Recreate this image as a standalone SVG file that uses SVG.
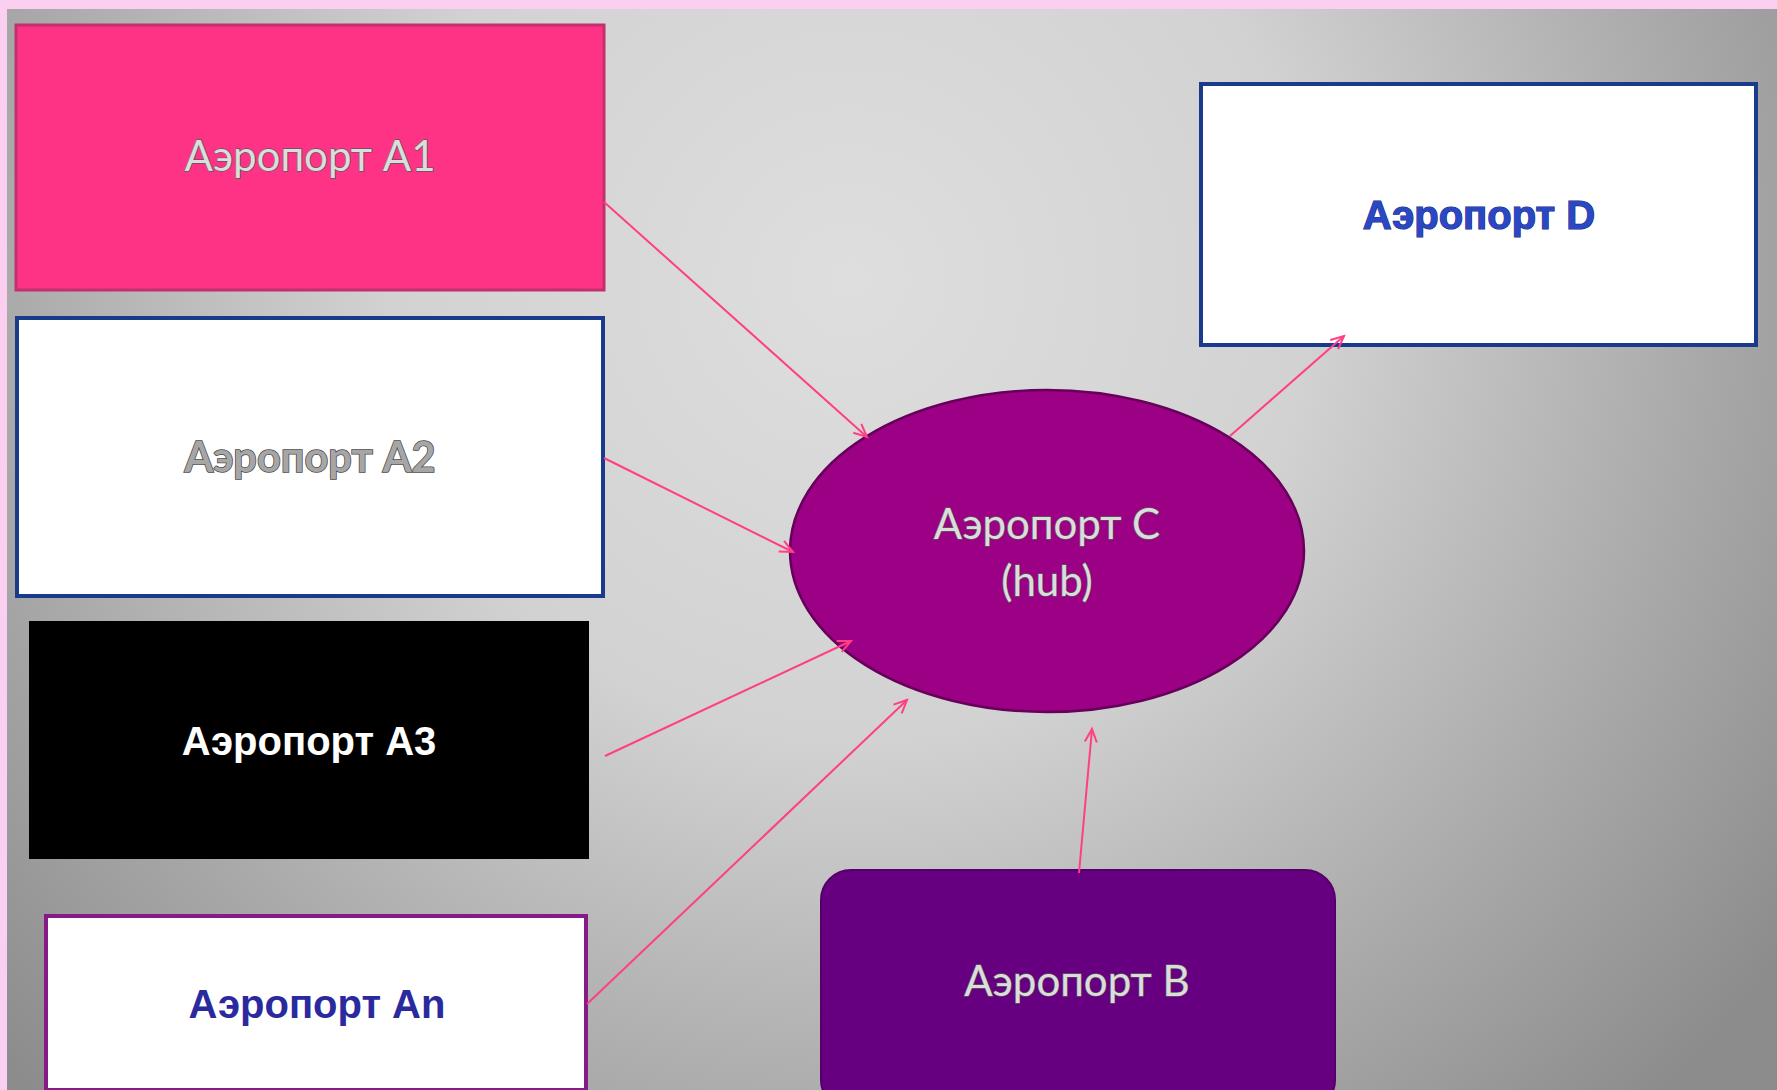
<svg xmlns="http://www.w3.org/2000/svg" width="1777" height="1090" viewBox="0 0 1777 1090">
<defs>
<radialGradient id="bg" cx="850" cy="280" r="1150" gradientUnits="userSpaceOnUse">
<stop offset="0" stop-color="#dedede"/>
<stop offset="0.4" stop-color="#d2d2d2"/>
<stop offset="0.75" stop-color="#a8a8a8"/>
<stop offset="1" stop-color="#8c8c8c"/>
</radialGradient>
<marker id="arr" markerUnits="userSpaceOnUse" markerWidth="18" markerHeight="18" refX="15" refY="8" orient="auto" viewBox="0 0 18 16">
<path d="M2,2 L15,8 L2,14" fill="none" stroke="#ff3f85" stroke-width="2"/>
</marker>
</defs>
<style>
.conn{stroke:#ff3f85;stroke-width:2;fill:none;marker-end:url(#arr)}
.calib{font-family:Lato,"Open Sans","Liberation Sans",sans-serif;text-anchor:middle}
.arial{font-family:"Liberation Sans",Arial,sans-serif;font-weight:bold;text-anchor:middle}
.silver{fill:#dcdcdc;stroke:#5a5a5a;stroke-width:1.3;paint-order:stroke}
</style>
<rect x="0" y="0" width="1777" height="1090" fill="#fbcff0"/>
<rect x="7" y="9" width="1770" height="1081" fill="url(#bg)"/>

<g id="node-a1">
<rect x="16" y="25" width="588" height="265" fill="#ff3385" stroke="#c2306d" stroke-width="3"/>
<text class="calib silver" x="310" y="171" font-size="42">Аэропорт А1</text>
</g>
<g id="node-a2">
<rect x="17" y="318" width="586" height="278" fill="#ffffff" stroke="#1a3a8c" stroke-width="4"/>
<text class="calib" x="310" y="472" font-size="41.5" font-weight="bold" fill="#a6a6a6" stroke="#4a4a4a" stroke-width="1.5" paint-order="stroke">Аэропорт А2</text>
</g>
<g id="node-a3">
<rect x="29" y="621" width="560" height="238" fill="#000000"/>
<text class="arial" x="309" y="755" font-size="40" fill="#ffffff">Аэропорт  А3</text>
</g>
<g id="node-an">
<rect x="46" y="916" width="540" height="174" fill="#ffffff" stroke="#861a86" stroke-width="4"/>
<text class="arial" x="317" y="1018" font-size="40" fill="#2a2a9e">Аэропорт Аn</text>
</g>
<g id="node-c">
<ellipse cx="1047" cy="551" rx="257" ry="161" fill="#9c0084" stroke="#66005a" stroke-width="2.5"/>
<text class="calib silver" x="1047" y="539" font-size="42">Аэропорт С</text>
<text class="calib silver" x="1047" y="596" font-size="42">(hub)</text>
</g>
<g id="node-d">
<rect x="1201" y="84" width="555" height="261" fill="#ffffff" stroke="#1a3a8c" stroke-width="4"/>
<text class="arial" x="1479" y="229" font-size="40" fill="#2a48c4" stroke="#1a2a80" stroke-width="1.2" paint-order="stroke">Аэропорт D</text>
</g>
<g id="node-b">
<rect x="821" y="870" width="514" height="240" rx="30" fill="#660080" stroke="#55006a" stroke-width="2"/>
<text class="calib silver" x="1077" y="996" font-size="42">Аэропорт В</text>
</g>

<g id="connectors">
<line class="conn" x1="604" y1="202" x2="867" y2="437"/>
<line class="conn" x1="604" y1="458" x2="793" y2="552"/>
<line class="conn" x1="605" y1="756" x2="851" y2="641"/>
<line class="conn" x1="587" y1="1004" x2="907" y2="700"/>
<line class="conn" x1="1079" y1="873" x2="1092" y2="729"/>
<line class="conn" x1="1230" y1="436" x2="1344" y2="336"/>
</g>
</svg>
